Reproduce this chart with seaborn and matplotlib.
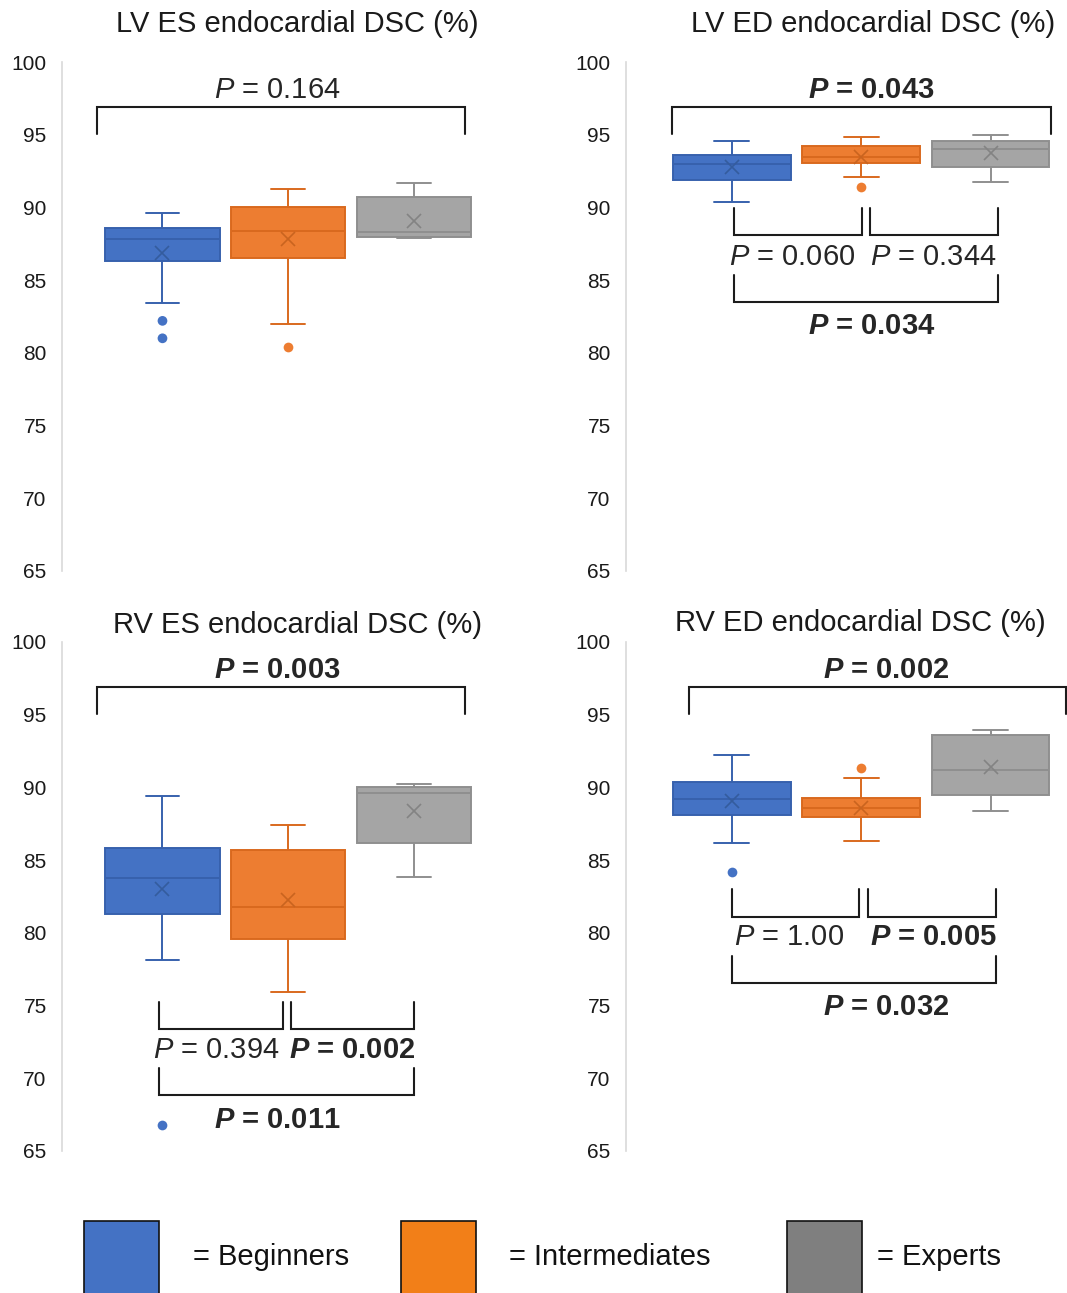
import matplotlib
matplotlib.use("Agg")
import matplotlib.pyplot as plt
from matplotlib.patches import Rectangle
import pandas as pd
import seaborn as sns

GROUPS = ["Beginners", "Intermediates", "Experts"]
TITLES = ["LV ES endocardial DSC (%)", "LV ED endocardial DSC (%)",
          "RV ES endocardial DSC (%)", "RV ED endocardial DSC (%)"]

# five-number summaries: whisker low, Q1, median, Q3, whisker high
LV_ES_BOX = [[83.4, 86.3, 87.8, 88.6, 89.6],
             [82.0, 86.5, 88.4, 90.0, 91.3],
             [87.9, 88.0, 88.3, 90.7, 91.7]]
LV_ED_BOX = [[90.4, 91.9, 93.0, 93.6, 94.6],
             [92.1, 93.05, 93.5, 94.2, 94.85],
             [91.75, 92.8, 94.05, 94.6, 94.95]]
RV_ES_BOX = [[78.1, 81.3, 83.8, 85.85, 89.4],
             [75.95, 79.6, 81.75, 85.7, 87.4],
             [83.85, 86.2, 89.65, 90.0, 90.25]]
RV_ED_BOX = [[86.2, 88.1, 89.2, 90.35, 92.2],
             [86.35, 87.95, 88.6, 89.25, 90.65],
             [88.35, 89.45, 91.2, 93.6, 93.95]]

LV_ES_MEAN = [86.9, 87.8, 89.1]
LV_ED_MEAN = [92.8, 93.5, 93.75]
RV_ES_MEAN = [83.0, 82.25, 88.35]
RV_ED_MEAN = [89.1, 88.6, 91.4]

LV_ES_OUT = [[82.2, 81.0], [80.4], []]
LV_ED_OUT = [[], [91.4], []]
RV_ES_OUT = [[66.8], [], []]
RV_ED_OUT = [[84.2], [91.35], []]

# p-values: (label, bold)
LV_ES_P = [("0.164", False)]
LV_ED_P = [("0.043", True), ("0.060", False), ("0.344", False), ("0.034", True)]
RV_ES_P = [("0.003", True), ("0.394", False), ("0.002", True), ("0.011", True)]
RV_ED_P = [("0.002", True), ("1.00", False), ("0.005", True), ("0.032", True)]

FILL = ["#4472C4", "#ED7D31", "#A5A5A5"]
EDGE = ["#3761AD", "#D9691E", "#8F8F8F"]
MEAN_C = ["#345C9E", "#C9641F", "#838383"]
LEGEND_FILL = ["#4472C4", "#F27F18", "#7F7F7F"]

sns.set_style("white")
plt.rcParams["font.family"] = ["Liberation Sans", "DejaVu Sans"]
plt.rcParams["mathtext.fontset"] = "custom"
plt.rcParams["mathtext.rm"] = "Liberation Sans"
plt.rcParams["mathtext.it"] = "Liberation Sans:italic"
plt.rcParams["mathtext.bf"] = "Liberation Sans:bold"
plt.rcParams["mathtext.bfit"] = "Liberation Sans:italic:bold"

W, H = 1067, 1293
fig = plt.figure(figsize=(W / 100, H / 100), dpi=100)


def px_axes(left, top, right, bottom):
    return fig.add_axes([left / W, 1 - bottom / H, (right - left) / W, (bottom - top) / H])


def long_frame(per_group):
    rows = [(g, v) for g, vals in zip(GROUPS, per_group) for v in vals]
    return pd.DataFrame(rows, columns=["group", "value"])


def bracket(ax, x0, x1, y_leg, y_bar):
    ax.plot([x0, x0, x1, x1], [y_leg, y_bar, y_bar, y_leg], color="#1c1c1c",
            lw=1.5, solid_joinstyle="miter", clip_on=False, zorder=6)


def p_text(ax, x, y, p, ha="center"):
    label, bold = p
    if bold:
        s = r"$\mathbfit{P}$ = " + label
        ax.text(x, y, s, fontsize=21, fontweight="bold", ha=ha, va="center")
    else:
        s = r"$\mathit{P}$ = " + label
        ax.text(x, y, s, fontsize=21, ha=ha, va="center")


def draw_panel(ax, title, box, means, outliers, xlim, title_pos):
    df = long_frame(box)
    for i, g in enumerate(GROUPS):
        sns.boxplot(data=df[df.group == g], x="group", y="value", order=GROUPS,
                    color=FILL[i], linecolor=EDGE[i], saturation=1, width=0.91,
                    whis=(0, 100), showfliers=False, linewidth=1.4,
                    capwidths=0.27, ax=ax)
    out = long_frame(outliers)
    if len(out):
        sns.stripplot(data=out, x="group", y="value", hue="group", order=GROUPS,
                      hue_order=GROUPS, palette=FILL, jitter=False, size=7,
                      linewidth=0, legend=False, ax=ax, zorder=4)
    for i, m in enumerate(means):
        ax.plot(i, m, marker="x", ms=9.5, mew=1.2, color=MEAN_C[i],
                linestyle="none", zorder=5)
    ax.set_xlim(*xlim)
    ax.set_ylim(65, 100)
    ax.set_yticks(range(65, 101, 5))
    ax.set_xticks([])
    ax.set_xlabel("")
    ax.set_ylabel("")
    ax.tick_params(axis="y", length=0, pad=11, labelsize=15, labelcolor="#1a1a1a")
    for side in ["top", "right", "bottom"]:
        ax.spines[side].set_visible(False)
    ax.spines["left"].set_color("#D9D9D9")
    ax.spines["left"].set_linewidth(1.2)
    ax.text(title_pos[0], title_pos[1], title, transform=ax.transAxes,
            ha="center", va="center", fontsize=21, color="#1a1a1a")


# LV ES
ax1 = px_axes(62, 62, 533, 571)
draw_panel(ax1, TITLES[0], LV_ES_BOX, LV_ES_MEAN, LV_ES_OUT, (-0.8, 2.95), (0.5, 1.075))
bracket(ax1, -0.52, 2.41, 95.05, 96.9)
p_text(ax1, 0.916, 98.07, LV_ES_P[0])

# LV ED
ax2 = px_axes(626, 62, 1120, 571)
draw_panel(ax2, TITLES[1], LV_ED_BOX, LV_ED_MEAN, LV_ED_OUT, (-0.816, 3.0), (0.501, 1.075))
bracket(ax2, -0.46, 2.47, 95.03, 96.9)
p_text(ax2, 1.08, 98.07, LV_ED_P[0])
bracket(ax2, 0.02, 1.01, 89.94, 88.1)
bracket(ax2, 1.07, 2.06, 89.94, 88.1)
p_text(ax2, 0.47, 86.6, LV_ED_P[1])
p_text(ax2, 1.56, 86.6, LV_ED_P[2])
bracket(ax2, 0.02, 2.06, 85.35, 83.5)
p_text(ax2, 1.08, 81.84, LV_ED_P[3])

# RV ES
ax3 = px_axes(62, 642, 533, 1151)
draw_panel(ax3, TITLES[2], RV_ES_BOX, RV_ES_MEAN, RV_ES_OUT, (-0.8, 2.95), (0.501, 1.034))
bracket(ax3, -0.52, 2.41, 95.03, 96.88)
p_text(ax3, 0.916, 98.07, RV_ES_P[0])
bracket(ax3, -0.03, 0.96, 75.26, 73.38)
bracket(ax3, 1.02, 2.0, 75.26, 73.38)
p_text(ax3, 0.43, 71.94, RV_ES_P[1])
p_text(ax3, 1.51, 71.94, RV_ES_P[2])
bracket(ax3, -0.03, 2.0, 70.72, 68.86)
p_text(ax3, 0.916, 67.13, RV_ES_P[3])

# RV ED
ax4 = px_axes(626, 642, 1120, 1151)
draw_panel(ax4, TITLES[3], RV_ED_BOX, RV_ED_MEAN, RV_ED_OUT, (-0.816, 3.0), (0.474, 1.037))
bracket(ax4, -0.33, 2.58, 95.03, 96.9)
p_text(ax4, 1.19, 98.07, RV_ED_P[0])
bracket(ax4, 0.0, 0.98, 83.0, 81.11)
bracket(ax4, 1.05, 2.04, 83.0, 81.11)
p_text(ax4, 0.44, 79.69, RV_ED_P[1])
p_text(ax4, 1.56, 79.69, RV_ED_P[2])
bracket(ax4, 0.0, 2.04, 78.4, 76.55)
p_text(ax4, 1.19, 74.92, RV_ED_P[3])

# legend squares along the bottom edge
for x_sq, x_txt, fc, name in zip([83.5, 401, 787], [193, 509, 877], LEGEND_FILL, GROUPS):
    fig.add_artist(Rectangle((x_sq / W, 1 - 1310 / H), 75 / W, 89 / H,
                             transform=fig.transFigure, facecolor=fc,
                             edgecolor="#111111", lw=1.2, clip_on=False))
    fig.text(x_txt / W, 1 - 1257 / H, "= " + name, fontsize=21,
             ha="left", va="center", color="#111111")

fig.savefig("out.png", dpi=100)
